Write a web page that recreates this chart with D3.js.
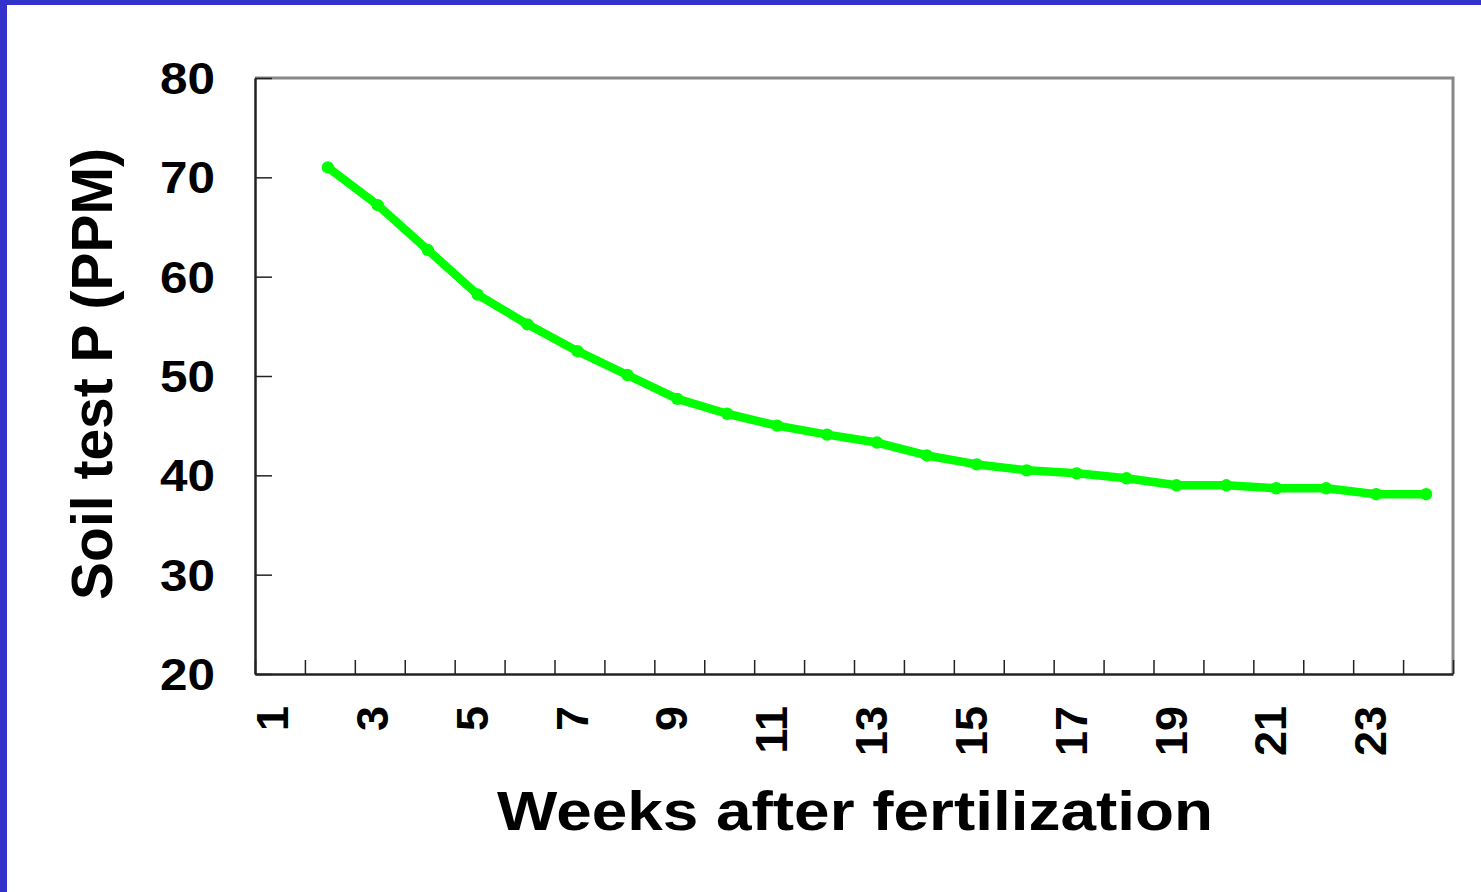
<!DOCTYPE html>
<html lang="en">
<head>
<meta charset="utf-8">
<script src="https://d3js.org/d3.v7.min.js"></script>
<style>
  html, body { margin: 0; padding: 0; background: #fff; }
  svg { display: block; }
  .lbl { font-family: "Liberation Sans", Arial, sans-serif; font-weight: bold; fill: #000; }
</style>
</head>
<body>
<script>
// data
var weeks = d3.range(1, 25);            // categories 1..24
var dataWeeks = d3.range(2, 25);        // weeks with a value
var soilP = [71.0, 67.2, 62.7, 58.2, 55.2, 52.5, 50.1, 47.7, 46.2, 45.0, 44.1, 43.3,
             42.0, 41.1, 40.5, 40.2, 39.7, 39.0, 39.0, 38.7, 38.7, 38.1, 38.1];
var yTicks = [20, 30, 40, 50, 60, 70, 80];
var xLabels = [1, 3, 5, 7, 9, 11, 13, 15, 17, 19, 21, 23];

var W = 1481, H = 892;
var plotL = 255, plotR = 1453, plotT = 78, plotB = 674;

var svg = d3.select('body').append('svg')
  .attr('width', W)
  .attr('height', H);

// blue frame on the left and top
svg.append('rect').attr('x', 0).attr('y', 0).attr('width', 7).attr('height', H).attr('fill', '#3333cc');
svg.append('rect').attr('x', 0).attr('y', 0).attr('width', W).attr('height', 5).attr('fill', '#3333cc');

var x = d3.scaleBand().domain(weeks).range([plotL, plotR]).padding(0);
var xEdge = d3.scaleLinear().domain([0.5, 24.5]).range([plotL, plotR]);
var y = d3.scaleLinear().domain([20, 80]).range([plotB, plotT]);

// gray top and right border
svg.append('path')
  .attr('d', 'M' + plotL + ',' + plotT + 'H' + plotR + 'V' + plotB)
  .attr('fill', 'none')
  .attr('stroke', '#888')
  .attr('stroke-width', 3);

// y axis, ticks inward
var yAxis = svg.append('g')
  .attr('transform', 'translate(' + plotL + ',0)')
  .call(d3.axisLeft(y).tickValues(yTicks).tickSizeInner(-17).tickSizeOuter(0).tickPadding(40));
yAxis.select('.domain').attr('stroke', '#222').attr('stroke-width', 2.5);
yAxis.selectAll('.tick line').attr('stroke', '#222').attr('stroke-width', 1.5);
yAxis.selectAll('.tick text')
  .attr('class', 'lbl')
  .attr('font-size', 44)
  .attr('dy', '0.35em')
  .attr('textLength', function(d) { return String(d).length * 27.5; })
  .attr('lengthAdjust', 'spacingAndGlyphs');

// x axis ticks between categories, inward
var xAxis = svg.append('g')
  .attr('transform', 'translate(0,' + plotB + ')')
  .call(d3.axisTop(xEdge).tickValues(d3.range(0.5, 25, 1)).tickSizeInner(14).tickSizeOuter(0).tickFormat(''));
xAxis.select('.domain').attr('stroke', '#222').attr('stroke-width', 2.5);
xAxis.selectAll('.tick line').attr('stroke', '#222').attr('stroke-width', 1.5);

// x labels, rotated
svg.append('g').selectAll('text')
  .data(xLabels)
  .enter().append('text')
  .attr('class', 'lbl')
  .attr('font-size', 45)
  .attr('text-anchor', 'end')
  .attr('dy', '0.18em')
  .attr('transform', function(d) { return 'translate(' + (x(d) + x.bandwidth() / 2) + ',706) rotate(-90)'; })
  .text(function(d) { return d; });

// line and markers
var pts = dataWeeks.map(function(w, i) { return [x(w) + x.bandwidth() / 2 - 2, y(soilP[i])]; });

svg.append('path')
  .datum(pts)
  .attr('d', d3.line())
  .attr('fill', 'none')
  .attr('stroke', '#00ff00')
  .attr('stroke-width', 8.5)
  .attr('stroke-linejoin', 'round');

svg.append('g').selectAll('circle')
  .data(pts)
  .enter().append('circle')
  .attr('cx', function(d) { return d[0]; })
  .attr('cy', function(d) { return d[1]; })
  .attr('r', 6.2)
  .attr('fill', '#00ff00');

// axis titles
svg.append('text')
  .attr('class', 'lbl')
  .attr('font-size', 56)
  .attr('text-anchor', 'middle')
  .attr('x', 855)
  .attr('y', 830)
  .attr('textLength', 716)
  .attr('lengthAdjust', 'spacingAndGlyphs')
  .text('Weeks after fertilization');

svg.append('text')
  .attr('class', 'lbl')
  .attr('font-size', 57)
  .attr('text-anchor', 'middle')
  .attr('transform', 'translate(112,374) rotate(-90)')
  .text('Soil test P (PPM)');
</script>
</body>
</html>
